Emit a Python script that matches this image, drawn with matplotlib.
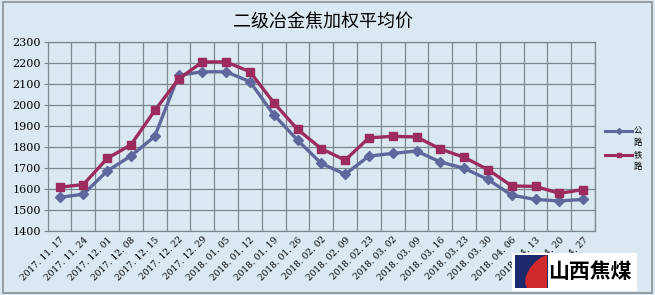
import matplotlib
matplotlib.use("Agg")
import matplotlib.pyplot as plt
from matplotlib.patches import Rectangle, Polygon
from matplotlib.lines import Line2D

plt.rcParams['font.family'] = ['Noto Sans CJK SC', 'DejaVu Sans']

# 数据
dates = ["2017. 11. 17", "2017. 11. 24", "2017. 12. 01", "2017. 12. 08", "2017. 12. 15",
         "2017. 12. 22", "2017. 12. 29", "2018. 01. 05", "2018. 01. 12", "2018. 01. 19",
         "2018. 01. 26", "2018. 02. 02", "2018. 02. 09", "2018. 02. 23", "2018. 03. 02",
         "2018. 03. 09", "2018. 03. 16", "2018. 03. 23", "2018. 03. 30", "2018. 04. 06",
         "2018. 04. 13", "2018. 04. 20", "2018. 04. 27"]
gonglu = [1560, 1575, 1685, 1757, 1850, 2140, 2157, 2157, 2110, 1953, 1832, 1721, 1670,
          1756, 1769, 1780, 1728, 1698, 1645, 1570, 1550, 1543, 1550]
tielu = [1608, 1621, 1745, 1810, 1973, 2122, 2204, 2204, 2157, 2010, 1883, 1791, 1737,
         1843, 1850, 1847, 1790, 1750, 1692, 1614, 1612, 1579, 1597]
yticks = list(range(1400, 2301, 100))
series_names = ['公路', '铁路']

bg = '#DAE9F1'
blue = '#5E689C'
red = '#9C2B5E'
grid_c = '#7D868C'

W, H = 655, 295
def fx(px):
    return px / W
def fy(py):
    return 1 - py / H

fig = plt.figure(figsize=(6.55, 2.95), dpi=100, facecolor=bg)
ax = fig.add_axes([0.0728, 0.217, 0.8356, 0.6416])
ax.set_facecolor(bg)

x = list(range(len(dates)))
ax.plot(x, gonglu, color=blue, lw=2.4, marker='D', ms=4.8, zorder=3)
ax.plot(x, tielu, color=red, lw=2.4, marker='s', ms=6.3, zorder=4)

ax.set_xlim(-0.5, len(dates) - 0.5)
ax.set_ylim(1400, 2300)
ax.set_yticks(yticks)
ax.set_yticklabels([str(v) for v in yticks], fontsize=8, family='DejaVu Serif')
ax.set_xticks(x)
ax.set_xticklabels(dates, rotation=45, ha='right', rotation_mode='anchor',
                   fontsize=6.5, family='DejaVu Serif')
ax.set_xticks([i + 0.5 for i in x], minor=True)
ax.tick_params(axis='x', which='both', length=0, pad=3)
ax.tick_params(axis='y', length=3, color=grid_c, pad=2)
ax.grid(axis='y', color=grid_c, lw=0.9)
ax.grid(axis='x', which='minor', color=grid_c, lw=0.9)
for s in ax.spines.values():
    s.set_color(grid_c)
    s.set_linewidth(0.9)

fig.text(0.493, 0.925, '二级冶金焦加权平均价', ha='center', va='center', fontsize=13,
         fontweight='medium')

# 图例（竖排文字）
for name, col, mk, py in [(series_names[0], blue, 'D', 131), (series_names[1], red, 's', 155)]:
    fig.lines.append(Line2D([fx(605), fx(632)], [fy(py), fy(py)], transform=fig.transFigure,
                            color=col, lw=2.2))
    fig.lines.append(Line2D([fx(618.5)], [fy(py)], transform=fig.transFigure, color=col,
                            marker=mk, ms=3))
    fig.text(fx(634), fy(py), name[0], ha='left', va='center', fontsize=6)
    fig.text(fx(634), fy(py + 11), name[1], ha='left', va='center', fontsize=6)

# 外框
fig.patches.append(Rectangle((0.004, 0.008), 0.992, 0.984, transform=fig.transFigure,
                             fill=False, edgecolor='#8A8F93', lw=1.2))

# 标志
fig.patches.append(Rectangle((fx(512), fy(291)), fx(125), 38 / H, transform=fig.transFigure,
                             facecolor='white', edgecolor='none', zorder=5))
fig.patches.append(Rectangle((fx(515), fy(288)), fx(33), 33 / H, transform=fig.transFigure,
                             facecolor='#1B2A6B', edgecolor='none', zorder=6))
fig.patches.append(Polygon([(fx(547), fy(255)), (fx(547), fy(288)), (fx(527), fy(288)),
                            (fx(525), fy(283)), (fx(526), fy(276)), (fx(530), fy(268)),
                            (fx(536), fy(261)), (fx(542), fy(257))],
                           closed=True, transform=fig.transFigure,
                           facecolor='#D02A2A', edgecolor='none', zorder=7))
fig.text(fx(590), fy(272), '山西焦煤', ha='center', va='center', fontsize=15,
         fontweight='bold', color='black', zorder=8)

fig.savefig('out.png', dpi=100, facecolor=bg)
